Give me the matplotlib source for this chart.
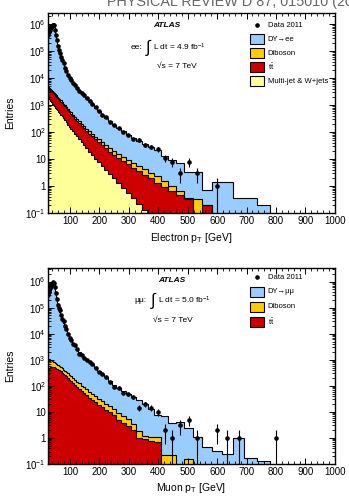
import numpy as np
import matplotlib
matplotlib.use("Agg")
import matplotlib.pyplot as plt
from matplotlib.patches import Rectangle
from matplotlib.ticker import FixedLocator, FixedFormatter, LogLocator, MultipleLocator, NullFormatter

plt.rcParams['font.family'] = ['Liberation Sans', 'DejaVu Sans']
plt.rcParams['mathtext.fontset'] = 'custom'
plt.rcParams['mathtext.rm'] = 'Liberation Sans'
plt.rcParams['mathtext.it'] = 'Liberation Sans:italic'
plt.rcParams['mathtext.bf'] = 'Liberation Sans:bold'

# bin edges in GeV (log binning)
edges = [25.0, 26.5, 28.1, 29.8, 31.6, 33.5, 35.5, 37.6, 39.8, 42.2, 44.8, 47.5,
         50.3, 53.3, 56.5, 59.9, 63.5, 67.3, 71.4, 75.6, 80.2, 85.0, 90.1, 95.5,
         101.2, 107.3, 113.7, 120.6, 127.8, 135.5, 143.6, 152.2, 161.3, 171.0,
         181.3, 192.2, 203.7, 215.9, 228.9, 242.6, 257.2, 272.6, 288.9, 306.3,
         324.6, 344.1, 364.8, 386.7, 409.9, 434.5, 460.5, 488.1, 517.4, 548.5,
         581.4, 616.3, 653.2, 692.4, 734.0, 778.0, 824.7]
nan = np.nan

# digitised values, log10(entries); stack tops (each includes the layers below it)
# electron channel
ele_data = [5.60, 5.70, 5.76, 5.80, 5.85, 5.88, 5.91, 5.93, 5.96, 5.98,
            5.96, 5.80, 5.60, 5.41, 5.21, 5.04, 4.95, 4.80, 4.66, 4.55,
            4.38, 4.26, 4.12, 4.00, 3.93, 3.82, 3.74, 3.62, 3.53, 3.44,
            3.37, 3.25, 3.15, 3.03, 2.92, 2.77, 2.63, 2.55, 2.36, 2.26,
            2.14, 2.01, 1.89, 1.76, 1.70, 1.52, 1.45, 1.36, 1.04, 0.90,
            0.48, 0.90, 0.48, nan, 0.00, nan, nan, nan, nan, nan]
ele_dy = [5.60, 5.70, 5.75, 5.80, 5.85, 5.88, 5.90, 5.93, 5.96, 5.98,
          5.97, 5.80, 5.60, 5.40, 5.20, 5.05, 4.93, 4.80, 4.66, 4.52,
          4.38, 4.25, 4.12, 4.02, 3.92, 3.82, 3.72, 3.62, 3.53, 3.44,
          3.36, 3.27, 3.14, 3.03, 2.91, 2.78, 2.65, 2.52, 2.40, 2.28,
          2.15, 2.03, 1.90, 1.78, 1.66, 1.55, 1.44, 1.32, 1.12, 0.95,
          0.84, 0.53, 0.53, -0.15, 0.14, 0.14, -0.46, -0.46, -0.72, nan]
ele_diboson = [3.68, 3.67, 3.65, 3.63, 3.61, 3.59, 3.57, 3.55, 3.52, 3.49,
               3.46, 3.43, 3.40, 3.36, 3.32, 3.28, 3.23, 3.18, 3.12, 3.06,
               3.00, 2.94, 2.87, 2.80, 2.73, 2.65, 2.57, 2.49, 2.40, 2.31,
               2.22, 2.13, 2.03, 1.93, 1.83, 1.73, 1.62, 1.52, 1.41, 1.30,
               1.19, 1.08, 0.97, 0.86, 0.75, 0.63, 0.50, 0.37, 0.20, 0.00,
               -0.20, -0.45, -0.50, -0.70, nan, nan, nan, nan, nan, nan]
ele_ttbar = [3.63, 3.62, 3.60, 3.58, 3.56, 3.54, 3.52, 3.50, 3.47, 3.44,
             3.41, 3.38, 3.35, 3.31, 3.27, 3.23, 3.18, 3.13, 3.07, 3.01,
             2.95, 2.88, 2.81, 2.74, 2.66, 2.58, 2.50, 2.41, 2.32, 2.23,
             2.14, 2.04, 1.94, 1.84, 1.73, 1.62, 1.51, 1.40, 1.28, 1.16,
             1.04, 0.92, 0.80, 0.68, 0.55, 0.42, 0.28, 0.10, -0.05, -0.20,
             -0.35, -0.50, nan, -0.70, nan, nan, nan, nan, nan, nan]
ele_multijet = [3.30, 3.28, 3.25, 3.22, 3.19, 3.16, 3.13, 3.10, 3.06, 3.02,
                2.98, 2.94, 2.90, 2.86, 2.81, 2.76, 2.71, 2.65, 2.58, 2.51,
                2.44, 2.36, 2.28, 2.20, 2.12, 2.03, 1.94, 1.84, 1.74, 1.63,
                1.52, 1.40, 1.28, 1.15, 1.02, 0.88, 0.74, 0.59, 0.44, 0.28,
                0.11, -0.07, -0.26, -0.46, -0.67, -0.90, nan, nan, nan, nan,
                nan, nan, nan, nan, nan, nan, nan, nan, nan, nan]

# muon channel
mu_data = [5.50, 5.60, 5.68, 5.75, 5.80, 5.85, 5.88, 5.92, 5.95, 5.97,
           5.95, 5.80, 5.55, 5.32, 5.12, 4.98, 4.90, 4.70, 4.55, 4.48,
           4.28, 4.17, 4.00, 3.84, 3.77, 3.62, 3.55, 3.42, 3.24, 3.18,
           3.08, 3.00, 2.93, 2.82, 2.70, 2.52, 2.44, 2.33, 2.15, 1.97,
           1.93, 1.74, 1.68, 1.56, 1.15, 1.30, 1.15, 1.00, 0.30, 0.00,
           0.48, 0.70, 0.00, nan, 0.30, 0.00, 0.00, nan, nan, 0.00]
mu_dy = [5.50, 5.60, 5.68, 5.75, 5.80, 5.85, 5.88, 5.92, 5.95, 5.97,
         5.95, 5.80, 5.55, 5.32, 5.12, 4.98, 4.85, 4.70, 4.55, 4.42,
         4.28, 4.14, 4.00, 3.88, 3.77, 3.66, 3.55, 3.44, 3.28, 3.18,
         3.08, 3.00, 2.92, 2.82, 2.70, 2.56, 2.44, 2.33, 2.20, 2.05,
         1.93, 1.80, 1.68, 1.56, 1.44, 1.32, 1.12, 0.88, 0.85, 0.58,
         0.63, 0.38, 0.04, -0.35, -0.50, -0.60, 0.00, -0.77, -0.90, nan]
mu_diboson = [3.00, 3.02, 3.03, 3.03, 3.02, 3.00, 2.98, 2.96, 2.94, 2.92,
              2.90, 2.88, 2.86, 2.84, 2.81, 2.78, 2.75, 2.71, 2.67, 2.62,
              2.58, 2.53, 2.48, 2.42, 2.36, 2.30, 2.23, 2.16, 2.09, 2.01,
              1.94, 1.86, 1.77, 1.69, 1.60, 1.50, 1.41, 1.31, 1.21, 1.11,
              0.95, 0.84, 0.72, 0.55, 0.25, 0.08, 0.05, 0.05, -0.65, -0.65,
              nan, -0.80, nan, nan, nan, nan, nan, nan, nan, nan]
mu_ttbar = [2.55, 2.62, 2.67, 2.70, 2.72, 2.74, 2.74, 2.74, 2.73, 2.72,
            2.71, 2.70, 2.68, 2.66, 2.64, 2.62, 2.59, 2.55, 2.51, 2.46,
            2.41, 2.36, 2.30, 2.24, 2.17, 2.10, 2.03, 1.96, 1.88, 1.80,
            1.72, 1.64, 1.55, 1.46, 1.37, 1.28, 1.18, 1.08, 0.98, 0.87,
            0.70, 0.58, 0.45, 0.30, 0.00, -0.05, -0.10, -0.15, nan, nan,
            nan, nan, nan, nan, nan, nan, nan, nan, nan, nan]

c_dy = '#99ccff'
c_diboson = '#ffcc00'
c_ttbar = '#cc0000'
c_multijet = '#ffff99'

edges = np.array(edges)
centers = 0.5 * (edges[:-1] + edges[1:])
floor = 1e-4
ytick_vals = [0.1, 1, 10, 1e2, 1e3, 1e4, 1e5, 1e6]
ytick_text = ['$10^{-1}$', '1', '10', '$10^{2}$', '$10^{3}$', '$10^{4}$', '$10^{5}$', '$10^{6}$']


def draw_stack(ax, layers):
    for top, col in layers:
        vals = 10.0 ** np.array(top, dtype=float)
        vals = np.where(np.isnan(vals), floor, vals)
        ax.stairs(vals, edges, baseline=floor, fill=True, facecolor=col,
                  edgecolor='black', linewidth=0.8)


def draw_data(ax, data):
    d = np.array(data, dtype=float)
    ok = ~np.isnan(d)
    n = 10.0 ** d[ok]
    err = np.sqrt(n)
    low = np.minimum(err, n - floor)
    ax.errorbar(centers[ok], n, yerr=[low, err], fmt='o', ms=2.3, color='black',
                elinewidth=0.8, capsize=0, zorder=5)


def style_axes(ax, ymax, xlabel):
    ax.set_xlim(25, 1000)
    ax.set_yscale('log')
    ax.set_ylim(0.1, ymax)
    ax.yaxis.set_major_locator(FixedLocator(ytick_vals))
    ax.yaxis.set_major_formatter(FixedFormatter(ytick_text))
    ax.yaxis.set_minor_locator(LogLocator(base=10, subs=np.arange(2, 10), numticks=20))
    ax.yaxis.set_minor_formatter(NullFormatter())
    ax.xaxis.set_major_locator(MultipleLocator(100))
    ax.xaxis.set_minor_locator(MultipleLocator(20))
    ax.tick_params(which='both', direction='in', top=True, right=True, labelsize=7)
    ax.tick_params(which='major', length=4.5, width=0.7)
    ax.tick_params(which='minor', length=2.2, width=0.6)
    ax.tick_params(axis='x', pad=2)
    ax.tick_params(axis='y', pad=1.5)
    for s in ax.spines.values():
        s.set_linewidth(1.0)
    ax.set_xticks([100, 200, 300, 400, 500, 600, 700, 800, 900, 1000])
    ax.text(0.5, -0.125, xlabel, transform=ax.transAxes, ha='center', va='center', fontsize=7.5)
    ax.set_ylabel('Entries', fontsize=7.5)
    ax.yaxis.set_label_coords(-0.115, 0.5)


def draw_legend(ax, rows, y0, dy, boxh):
    for i, (label, col) in enumerate(rows):
        y = y0 - i * dy
        if col is None:
            ax.plot([0.728], [y], 'o', ms=2.3, color='black', transform=ax.transAxes)
        else:
            ax.add_patch(Rectangle((0.703, y - boxh / 2), 0.05, boxh, transform=ax.transAxes,
                                   facecolor=col, edgecolor='black', linewidth=0.8))
        ax.text(0.766, y, label, transform=ax.transAxes, ha='left', va='center', fontsize=5.5)


fig = plt.figure(figsize=(3.49, 5.01), dpi=100)
# journal running head, cut by the top edge of the page crop
fig.text(0.307, 0.988, 'PHYSICAL REVIEW D 87, 015010 (2013)', ha='left', va='baseline',
         fontsize=10.4, color='0.4')

ax1 = fig.add_axes([0.1375, 0.5749, 0.822, 0.399])
draw_stack(ax1, [(ele_dy, c_dy), (ele_diboson, c_diboson), (ele_ttbar, c_ttbar),
                 (ele_multijet, c_multijet)])
draw_data(ax1, ele_data)
style_axes(ax1, 2.6e6, 'Electron p$_\\mathrm{T}$ [GeV]')
ax1.text(0.415, 0.94, 'ATLAS', transform=ax1.transAxes, ha='center', va='center',
         fontsize=6, fontweight='bold', fontstyle='italic')
ax1.text(0.328, 0.83, 'ee:', transform=ax1.transAxes, ha='right', va='center', fontsize=6)
ax1.text(0.350, 0.825, '\u222b', transform=ax1.transAxes, ha='center', va='center', fontsize=12)
ax1.text(0.366, 0.83, 'L dt = 4.9 fb$^{-1}$', transform=ax1.transAxes, ha='left', va='center',
         fontsize=6)
ax1.text(0.451, 0.735, '\u221as = 7 TeV', transform=ax1.transAxes, ha='center', va='center',
         fontsize=6)
draw_legend(ax1, [('Data 2011', None), ('DY\u2192ee', c_dy), ('Diboson', c_diboson),
                  ('$\\mathrm{t\\bar{t}}$', c_ttbar), ('Multi-jet & W+jets', c_multijet)],
            0.94, 0.07, 0.05)

ax2 = fig.add_axes([0.1375, 0.0739, 0.822, 0.391])
draw_stack(ax2, [(mu_dy, c_dy), (mu_diboson, c_diboson), (mu_ttbar, c_ttbar)])
draw_data(ax2, mu_data)
style_axes(ax2, 3.3e6, 'Muon p$_\\mathrm{T}$ [GeV]')
ax2.text(0.43, 0.939, 'ATLAS', transform=ax2.transAxes, ha='center', va='center',
         fontsize=6, fontweight='bold', fontstyle='italic')
ax2.text(0.345, 0.837, '\u03bc\u03bc:', transform=ax2.transAxes, ha='right', va='center', fontsize=6)
ax2.text(0.366, 0.832, '\u222b', transform=ax2.transAxes, ha='center', va='center', fontsize=12)
ax2.text(0.383, 0.837, 'L dt = 5.0 fb$^{-1}$', transform=ax2.transAxes, ha='left', va='center',
         fontsize=6)
ax2.text(0.434, 0.735, '\u221as = 7 TeV', transform=ax2.transAxes, ha='center', va='center',
         fontsize=6)
draw_legend(ax2, [('Data 2011', None), ('DY\u2192\u03bc\u03bc', c_dy), ('Diboson', c_diboson),
                  ('$\\mathrm{t\\bar{t}}$', c_ttbar)],
            0.954, 0.076, 0.051)

fig.savefig('out.png', dpi=100)
